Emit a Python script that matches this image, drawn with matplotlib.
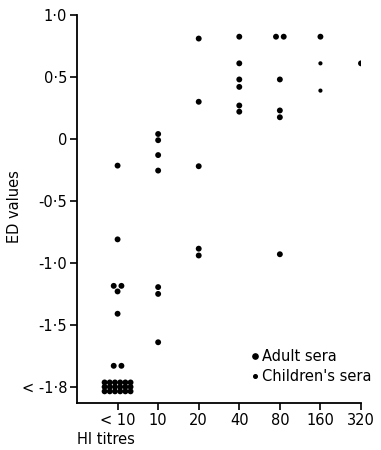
import matplotlib
matplotlib.use("Agg")
import matplotlib.pyplot as plt
from matplotlib.lines import Line2D
import numpy as np

# ---- data ----
categories = ["< 10", "10", "20", "40", "80", "160", "320"]
# Adult sera: (category index, ED value)
adult_cat = [0, 0, 0, 0, 0, 0, 0, 0,
             1, 1, 1, 1, 1, 1, 1,
             2, 2, 2, 2, 2,
             3, 3, 3, 3, 3, 3,
             4, 4, 4, 4, 4, 4,
             5,
             6]
adult_val = [-0.215, -0.81, -1.185, -1.185, -1.23, -1.41, -1.83, -1.83,
             0.04, -0.01, -0.13, -0.255, -1.195, -1.25, -1.64,
             0.81, 0.30, -0.22, -0.885, -0.94,
             0.825, 0.61, 0.48, 0.42, 0.27, 0.22,
             0.825, 0.825, 0.48, 0.23, 0.175, -0.93,
             0.825,
             0.61]
# Sera below detection (< -1.8) at "<10"
below_count = 18
below_value = -2.0
# Children's sera
child_cat = [5, 5]
child_val = [0.61, 0.39]

yticks = [1.0, 0.5, 0.0, -0.5, -1.0, -1.5, -2.0]
yticklabels = ["1·0", "0·5", "0", "-0·5", "-1·0", "-1·5", "< -1·8"]

# ---- figure ----
fig = plt.figure(figsize=(3.81, 4.5), dpi=100)
ax = fig.add_axes([77/381, 1-403/450, 284/381, 388/450])

# dodge equal values within a column
xs, ys = [], []
counts = {}
for c, v in zip(adult_cat, adult_val):
    counts[(c, v)] = counts.get((c, v), 0) + 1
idx = {}
for c, v in zip(adult_cat, adult_val):
    key = (c, v)
    n = counts[key]
    i = idx.get(key, 0)
    idx[key] = i + 1
    off = (i - (n - 1) / 2) * 0.19
    xs.append(c + off)
    ys.append(v)

# grid of below-detection sera
ncol, nrow = 6, 3
for k in range(below_count):
    r, cc = divmod(k, ncol)
    xs.append(0 + (cc - (ncol - 1) / 2) * 0.128)
    ys.append(below_value + (r - (nrow - 1) / 2) * 0.036)

ax.scatter(xs, ys, s=18, color="black", edgecolors="none", zorder=3)
ax.scatter(child_cat, child_val, s=9, color="black", edgecolors="none", zorder=3)

ax.set_xlim(-1.0, 6.0)
ax.set_ylim(-2.13, 1.0)
ax.set_xticks(range(len(categories)))
ax.set_xticklabels(categories, fontsize=10.5)
ax.set_yticks(yticks)
ax.set_yticklabels(yticklabels, fontsize=10.5)

for s in ["top", "right"]:
    ax.spines[s].set_visible(False)
for s in ["left", "bottom"]:
    ax.spines[s].set_linewidth(1.3)
ax.tick_params(direction="out", length=5, width=1.2, pad=2)

fig.text(15/381, 1-207/450, "ED values", fontsize=10.5, rotation=90,
         ha="center", va="center")
fig.text(77/381, 1-440/450, "HI titres", fontsize=10.5, ha="left", va="center")

handles = [Line2D([], [], marker="o", ls="none", color="black", markersize=3.8),
           Line2D([], [], marker="o", ls="none", color="black", markersize=2.6)]
ax.legend(handles, ["Adult sera", "Children's sera"], loc="lower left",
          bbox_to_anchor=(0.592, 0.03), frameon=False, handlelength=0.4,
          handletextpad=0.25, labelspacing=0.35, fontsize=10.5, borderpad=0)

fig.savefig("out.png", dpi=100)
